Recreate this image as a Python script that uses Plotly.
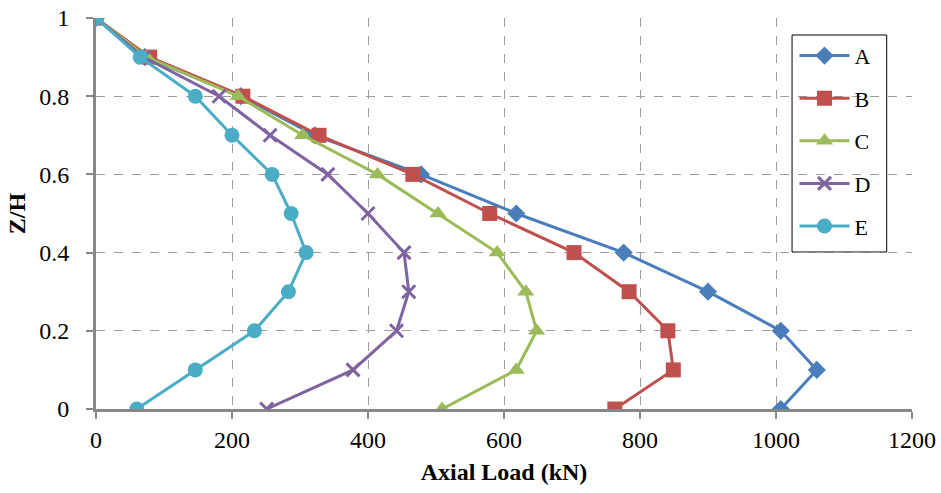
import plotly.graph_objects as go

zh = [1.0, 0.9, 0.8, 0.7, 0.6, 0.5, 0.4, 0.3, 0.2, 0.1, 0.0]
load_A = [0, 72, 213, 322, 478, 618, 776, 900, 1007, 1060, 1007]
load_B = [0, 79, 216, 328, 466, 579, 703, 784, 841, 849, 763]
load_C = [0, 75, 209, 304, 414, 503, 590, 632, 648, 618, 509]
load_D = [0, 70, 181, 256, 341, 400, 453, 460, 442, 378, 251]
load_E = [0, 65, 146, 200, 259, 287, 309, 283, 233, 146, 60]

names = ["A", "B", "C", "D", "E"]
colors = ["#4A7EBB", "#C0504D", "#9BBB59", "#7F63A1", "#4BACC6"]
symbols = ["diamond", "square", "triangle-up", "x-thin-open", "circle"]
sizes = [14, 15, 15, 13, 15]
series = [load_A, load_B, load_C, load_D, load_E]

fig = go.Figure()
for i, (n, c, s, sz, xs) in enumerate(zip(names, colors, symbols, sizes, series)):
    marker = dict(symbol=s, size=sz, color=c)
    if s == "x-thin-open":
        marker["line"] = dict(color=c, width=3)
    fig.add_trace(go.Scatter(
        x=xs, y=zh, name=n, mode="lines+markers",
        line=dict(color=c, width=3), marker=marker,
        legendgroup=n,
    ))

font_family = "Liberation Serif"
axis_common = dict(
    showline=True, linecolor="#878787", linewidth=3,
    ticks="outside", tickcolor="#878787", ticklen=7, tickwidth=2,
    showgrid=True, gridcolor="#9C9C9C", griddash="dash", gridwidth=1,
    zeroline=False, automargin=False,
    tickfont=dict(family=font_family, size=24, color="black"),
)
fig.update_xaxes(range=[0, 1200], dtick=200, tick0=0,
                 title=dict(text="<b>Axial Load (kN)</b>", font=dict(family=font_family, size=24, color="black"), standoff=12),
                 **axis_common)
fig.update_yaxes(range=[0, 1], dtick=0.2, tick0=0, ticklabelstandoff=12,
                 title=dict(text="<b>Z/H</b>", font=dict(family=font_family, size=24, color="black"), standoff=7),
                 **axis_common)

# legend frame (drawn above grid, below traces)
fig.add_shape(type="rect", xref="paper", yref="paper",
              x0=0.853, x1=0.969, y0=0.4015, y1=0.9565,
              line=dict(color="black", width=1), fillcolor="white", layer="between")

fig.update_layout(
    width=941, height=493,
    margin=dict(l=96, r=29, t=18, b=84),
    plot_bgcolor="white", paper_bgcolor="white",
    legend=dict(x=0.856, y=0.957, xanchor="left", yanchor="top",
                borderwidth=0, bgcolor="rgba(0,0,0,0)",
                font=dict(family=font_family, size=22, color="black"),
                tracegroupgap=11, itemwidth=50),
)

fig.write_html("out.html")
